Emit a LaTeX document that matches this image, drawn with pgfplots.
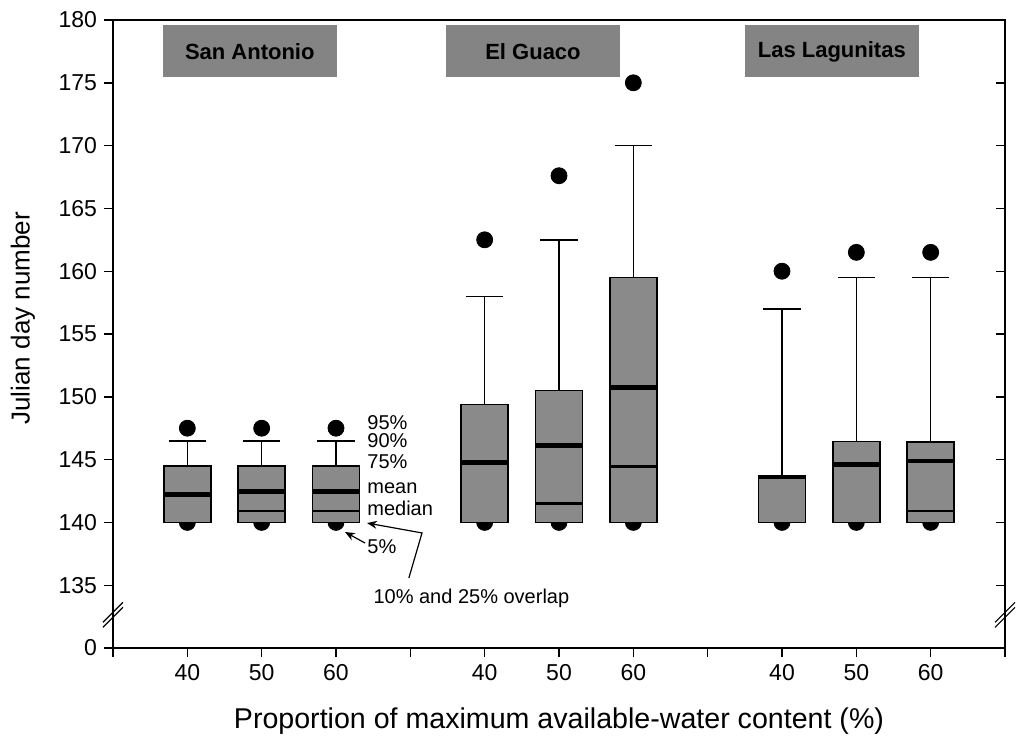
\documentclass[border=0pt]{standalone}
\usepackage{fontspec}
\setmainfont{Liberation Sans}
\usepackage{pgfplots}
\pgfplotsset{compat=1.18}
\usetikzlibrary{arrows.meta}
\definecolor{boxgray}{RGB}{138,138,138}
\definecolor{labgray}{RGB}{132,132,132}
\pgfplotsset{
  boxst/.style={draw=black, fill=boxgray, line width=0.8pt, line join=miter, forget plot},
  medline/.style={black, line width=1.1pt, forget plot},
  meanline/.style={black, line width=2.3pt, forget plot},
  whisk/.style={black, line width=0.8pt, forget plot},
}
\begin{document}
\begin{tikzpicture}
\useasboundingbox (-56.5pt,-45pt) rectangle (451.5pt,324pt);
\begin{axis}[
  at={(0pt,0pt)}, anchor=south west,
  scale only axis, width=446pt, height=314pt,
  xmin=0, xmax=12, ymin=130, ymax=180,
  xtick={0,...,12},
  xticklabels={,40,50,60,,40,50,60,,40,50,60,},
  ytick={130,135,...,180},
  yticklabels={0,135,140,145,150,155,160,165,170,175,180},
  xtick pos=bottom, ytick pos=left,
  tick align=outside,
  major tick length=4.5pt,
  tick style={black, line width=0.7pt},
  axis line style={black, line width=0.8pt},
  ticklabel style={font=\fontsize{11.5}{13}\selectfont},
  xlabel={Proportion of maximum available-water content (\%)},
  ylabel={Julian day number},
  xlabel style={font=\fontsize{14.3}{16}\selectfont, at={(axis description cs:0.5,-0.1274)}, anchor=base},
  ylabel style={font=\fontsize{13}{16}\selectfont, at={(axis description cs:-0.101,0.525)}, anchor=center},
  clip=false,
  clip marker paths=true,
]
% 5% dots (partly hidden behind the boxes)
\addplot[only marks, mark=*, mark size=4pt, black, forget plot] coordinates {
  (1,140) (2,140) (3,140) (5,140) (6,140) (7,140) (9,140) (10,140) (11,140)};

% whiskers up to the 90% value
\addplot[whisk] coordinates {(1,144.5) (1,146.5)};
\addplot[whisk] coordinates {(2,144.5) (2,146.5)};
\addplot[whisk] coordinates {(3,144.5) (3,146.5)};
\addplot[whisk] coordinates {(5,149.4) (5,158)};
\addplot[whisk] coordinates {(6,150.5) (6,162.5)};
\addplot[whisk] coordinates {(7,159.5) (7,170)};
\addplot[whisk] coordinates {(9,143.7) (9,157)};
\addplot[whisk] coordinates {(10,146.45) (10,159.5)};
\addplot[whisk] coordinates {(11,146.4) (11,159.5)};
% caps
\addplot[whisk] coordinates {(0.75,146.5) (1.25,146.5)};
\addplot[whisk] coordinates {(1.75,146.5) (2.25,146.5)};
\addplot[whisk] coordinates {(2.75,146.5) (3.25,146.5)};
\addplot[whisk] coordinates {(4.75,158) (5.25,158)};
\addplot[whisk] coordinates {(5.75,162.5) (6.25,162.5)};
\addplot[whisk] coordinates {(6.75,170) (7.25,170)};
\addplot[whisk] coordinates {(8.75,157) (9.25,157)};
\addplot[whisk] coordinates {(9.75,159.5) (10.25,159.5)};
\addplot[whisk] coordinates {(10.75,159.5) (11.25,159.5)};

% boxes from the 10%/25% value (140) to the 75% value
\addplot[boxst] coordinates {(0.685,140) (1.315,140) (1.315,144.5) (0.685,144.5)} -- cycle;
\addplot[boxst] coordinates {(1.685,140) (2.315,140) (2.315,144.5) (1.685,144.5)} -- cycle;
\addplot[boxst] coordinates {(2.685,140) (3.315,140) (3.315,144.5) (2.685,144.5)} -- cycle;
\addplot[boxst] coordinates {(4.685,140) (5.315,140) (5.315,149.4) (4.685,149.4)} -- cycle;
\addplot[boxst] coordinates {(5.685,140) (6.315,140) (6.315,150.5) (5.685,150.5)} -- cycle;
\addplot[boxst] coordinates {(6.685,140) (7.315,140) (7.315,159.5) (6.685,159.5)} -- cycle;
\addplot[boxst] coordinates {(8.685,140) (9.315,140) (9.315,143.7) (8.685,143.7)} -- cycle;
\addplot[boxst] coordinates {(9.685,140) (10.315,140) (10.315,146.45) (9.685,146.45)} -- cycle;
\addplot[boxst] coordinates {(10.685,140) (11.315,140) (11.315,146.4) (10.685,146.4)} -- cycle;

% medians (those not visible coincide with the mean)
\addplot[medline] coordinates {(1.685,140.9) (2.315,140.9)};
\addplot[medline] coordinates {(2.685,140.9) (3.315,140.9)};
\addplot[medline] coordinates {(5.685,141.5) (6.315,141.5)};
\addplot[medline] coordinates {(6.685,144.45) (7.315,144.45)};
\addplot[medline] coordinates {(10.685,140.9) (11.315,140.9)};

% means
\addplot[meanline] coordinates {(0.685,142.2) (1.315,142.2)};
\addplot[meanline] coordinates {(1.685,142.45) (2.315,142.45)};
\addplot[meanline] coordinates {(2.685,142.45) (3.315,142.45)};
\addplot[meanline] coordinates {(4.685,144.75) (5.315,144.75)};
\addplot[meanline] coordinates {(5.685,146.1) (6.315,146.1)};
\addplot[meanline] coordinates {(6.685,150.75) (7.315,150.75)};
\addplot[meanline] coordinates {(8.685,143.6) (9.315,143.6)};
\addplot[meanline] coordinates {(9.685,144.6) (10.315,144.6)};
\addplot[meanline] coordinates {(10.685,144.9) (11.315,144.9)};

% 95% dots
\addplot[only marks, mark=*, mark size=4pt, black, forget plot] coordinates {
  (1,147.5) (2,147.5) (3,147.5) (5,162.5) (6,167.6) (7,175) (9,160) (10,161.5) (11,161.5)};

% site labels
\node[fill=labgray, minimum width=87pt, minimum height=26pt, inner sep=0pt, font=\bfseries\fontsize{11}{13}\selectfont] at (axis cs:1.84,177.5) {San Antonio};
\node[fill=labgray, minimum width=87pt, minimum height=26pt, inner sep=0pt, font=\bfseries\fontsize{11}{13}\selectfont] at (axis cs:5.65,177.5) {El Guaco};
\node[fill=labgray, minimum width=87pt, minimum height=26pt, inner sep=0pt, font=\bfseries\fontsize{11}{13}\selectfont] at (axis cs:9.67,177.5) {Las Lagunitas};

% key annotations
\begin{scope}[every node/.style={anchor=west, inner sep=0pt, font=\fontsize{10}{12}\selectfont}]
\node at (axis cs:3.417,147.91) {95\%};
\node at (axis cs:3.417,146.48) {90\%};
\node at (axis cs:3.417,144.81) {75\%};
\node at (axis cs:3.417,142.74) {mean};
\node at (axis cs:3.417,141.15) {median};
\node at (axis cs:3.417,138.04) {5\%};
\end{scope}
\node[anchor=west, inner sep=0pt, font=\fontsize{10}{12}\selectfont] at (axis cs:3.50,133.98) {10\% and 25\% overlap};
\draw[-{Stealth[length=5pt,width=4pt]}, line width=0.6pt] (axis cs:3.39,138.36) -- (axis cs:3.12,139.24);
\draw[-{Stealth[length=5pt,width=4pt]}, line width=0.6pt] (axis cs:3.98,135.57) -- (axis cs:4.157,139.16) -- (axis cs:3.417,139.95);

% axis breaks
\draw[line width=0.6pt] ([xshift=-5pt,yshift=-6pt]axis cs:0,132.6) -- ++(10pt,10pt);
\draw[line width=0.6pt] ([xshift=-5pt,yshift=-3.5pt]axis cs:0,132.6) -- ++(10pt,10pt);
\draw[line width=0.6pt] ([xshift=-5pt,yshift=-6pt]axis cs:12,132.6) -- ++(10pt,10pt);
\draw[line width=0.6pt] ([xshift=-5pt,yshift=-3.5pt]axis cs:12,132.6) -- ++(10pt,10pt);
\end{axis}
% right-hand ticks pointing inwards
\begin{axis}[
  at={(0pt,0pt)}, anchor=south west,
  scale only axis, width=446pt, height=314pt,
  xmin=0, xmax=12, ymin=130, ymax=180,
  axis x line=none, axis y line*=right,
  ytick={135,140,...,180}, yticklabels={},
  tick align=inside, major tick length=4.5pt,
  tick style={black, line width=0.7pt},
  axis line style={black, line width=0.8pt},
]
\end{axis}
\end{tikzpicture}
\end{document}
